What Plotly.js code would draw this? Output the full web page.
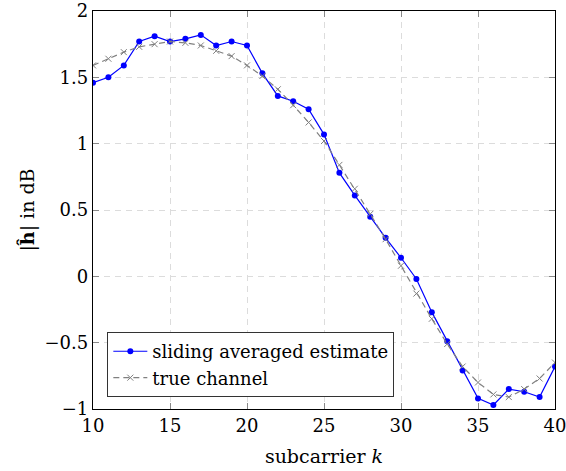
<!DOCTYPE html>
<html><head><meta charset="utf-8">
<script src="https://cdn.plot.ly/plotly-3.0.1.min.js"></script>
<style>body{margin:0;padding:0;background:#fff}#p{width:566px;height:471px}</style>
</head><body><div id="p"></div>
<script>
const subcarriers = [10,11,12,13,14,15,16,17,18,19,20,21,22,23,24,25,26,27,28,29,30,31,32,33,34,35,36,37,38,39,40];
const estimate = [1.46,1.50,1.59,1.77,1.81,1.77,1.79,1.82,1.74,1.77,1.74,1.53,1.36,1.32,1.26,1.07,0.78,0.61,0.45,0.29,0.14,-0.02,-0.27,-0.49,-0.71,-0.92,-0.97,-0.85,-0.87,-0.91,-0.68];
const trueChannel = [1.59,1.64,1.69,1.73,1.75,1.77,1.76,1.74,1.70,1.66,1.59,1.51,1.41,1.29,1.16,1.02,0.84,0.66,0.47,0.28,0.08,-0.13,-0.32,-0.51,-0.68,-0.80,-0.89,-0.91,-0.85,-0.77,-0.65];
const xTicks = [10,15,20,25,30,35,40];
const yTicks = [-1,-0.5,0,0.5,1,1.5,2];
const yTickText = ['−1','−0.5','0','0.5','1','1.5','2'];

const FAM = 'DejaVu Serif, serif';
const traces = [
 {x:subcarriers, y:estimate, name:'sliding averaged estimate', mode:'lines+markers',
  line:{color:'#0000ff', width:1.2}, marker:{symbol:'circle', size:6, color:'#0000ff'}},
 {x:subcarriers, y:trueChannel, name:'true channel', mode:'lines+markers',
  line:{color:'#808080', width:1.2, dash:'6px,4px'}, marker:{symbol:'x-thin', size:6, line:{color:'#808080', width:1}}}
];
function ax(extra){
  return Object.assign({showline:true, linecolor:'#000', linewidth:1.2, mirror:'allticks', ticks:'inside', ticklen:6, tickcolor:'#888',
  showgrid:true, gridcolor:'#dcdcdc', griddash:'6px,5px', gridwidth:1, zeroline:false,
  tickfont:{family:FAM, size:18, color:'#000'}}, extra);
}
const layout = {
 width:566, height:471, margin:{l:93, r:11, t:11, b:62},
 paper_bgcolor:'#fff', plot_bgcolor:'#fff', font:{family:FAM, size:18, color:'#000'},
 xaxis:ax({range:[10,40], tickvals:xTicks, ticktext:xTicks.map(String),
   title:{text:'subcarrier <i>k</i>', font:{family:FAM, size:19, color:'#000'}, standoff:15}}),
 yaxis:ax({range:[-1,2], tickvals:yTicks, ticktext:yTickText,
   title:{text:'|<b>ĥ</b>| in dB', font:{family:FAM, size:19, color:'#000'}, standoff:4}}),
 legend:{x:0.031, y:0.03, xanchor:'left', yanchor:'bottom', bordercolor:'#333', borderwidth:1, bgcolor:'#fff',
   font:{family:FAM, size:18, color:'#000'}, tracegroupgap:0, itemwidth:34},
 showlegend:true
};
Plotly.newPlot('p', traces, layout, {displayModeBar:false, staticPlot:true}).then(function(gd){
  // keep the end tick labels (y=2, x=40) visible
  document.querySelectorAll('.ytick text, .xtick text').forEach(function(t){ t.style.display=''; t.removeAttribute('display'); });
});
</script></body></html>
